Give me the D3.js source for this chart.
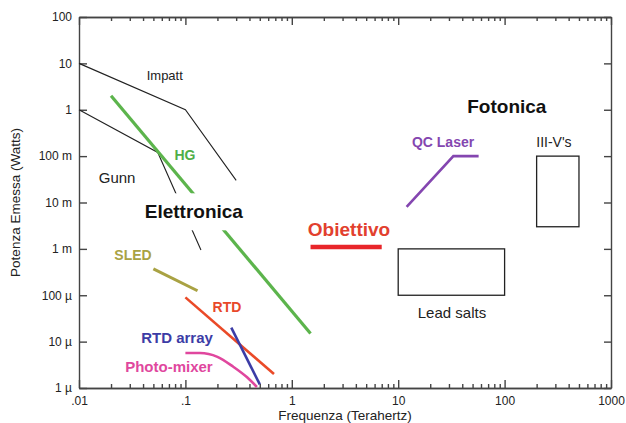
<!DOCTYPE html>
<html>
<head>
<meta charset="utf-8">
<script src="https://cdn.jsdelivr.net/npm/d3@7"></script>
<style>
  body { margin: 0; background: #fff; }
  svg { display: block; font-family: Helvetica, Arial, "Liberation Sans", sans-serif; }
  .axis path, .axis line { stroke: #444; stroke-width: 1.4; }
  .axis text { font-size: 12px; fill: #222; }
</style>
</head>
<body>
<script>
// tick values and labels
const xTicks = [0.01, 0.1, 1, 10, 100, 1000]
const xTickLabels = ['.01', '.1', '1', '10', '100', '1000']
const yTicks = [1e-6, 1e-5, 1e-4, 1e-3, 1e-2, 1e-1, 1, 10, 100]
const yTickLabels = ['1 µ', '10 µ', '100 µ', '1 m', '10 m', '100 m', '1', '10', '100']

// series [THz, Watts]
const impatt = [[0.01, 10], [0.1, 1], [0.3, 0.03]]
const gunn = [[0.01, 1], [0.055, 0.12], [0.14, 0.00095]]
const hg = [[0.02, 2], [1.5, 1.5e-5]]
const sled = [[0.05, 3.7e-4], [0.13, 1.25e-4]]
const rtd = [[0.1, 9e-5], [0.68, 2e-6]]
const rtdArray = [[0.27, 2e-5], [0.5, 1.2e-6]]
const photoMixer = [[0.1, 5.7e-6], [0.137, 5.7e-6], [0.2, 4.7e-6], [0.28, 2.9e-6], [0.38, 1.7e-6], [0.47, 1.05e-6]]
const qcLaser = [[12, 0.008], [33, 0.1], [57, 0.1]]
const obiettivo = [[1.5, 1.1e-3], [7, 1.1e-3]]

// boxes [x0, x1, y0, y1]
const leadSaltsBox = [10, 100, 1e-4, 1e-3]
const iiiVBox = [200, 500, 3e-3, 0.1]

const W = 626, H = 423
const margin = { top: 17, right: 15, bottom: 35, left: 79 }

const svg = d3.select('body').append('svg')
    .attr('width', W)
    .attr('height', H)

const x = d3.scaleLog().domain([0.01, 1000]).range([margin.left, W - margin.right])
const y = d3.scaleLog().domain([1e-6, 100]).range([H - margin.bottom, margin.top])

// minor ticks 2..9 per decade
const minorX = []
xTicks.slice(0, -1).forEach(d => {
    for (let k = 2; k < 10; k++) minorX.push(d * k)
})

const fmtX = d => xTickLabels[xTicks.indexOf(d)]
const fmtY = d => yTickLabels[yTicks.findIndex(v => Math.abs(Math.log10(v) - Math.log10(d)) < 1e-6)]

svg.append('g').attr('class', 'axis')
    .attr('transform', `translate(0,${y.range()[0]})`)
    .call(d3.axisBottom(x).tickValues(minorX).tickFormat('').tickSize(-4).tickSizeOuter(0))
svg.append('g').attr('class', 'axis')
    .attr('transform', `translate(0,${y.range()[0]})`)
    .call(d3.axisBottom(x).tickValues(xTicks).tickFormat(fmtX).tickSize(-8).tickSizeOuter(0).tickPadding(8))

svg.append('g').attr('class', 'axis')
    .attr('transform', `translate(0,${y.range()[1]})`)
    .call(d3.axisTop(x).tickValues(minorX).tickFormat('').tickSize(-4).tickSizeOuter(0))
svg.append('g').attr('class', 'axis')
    .attr('transform', `translate(0,${y.range()[1]})`)
    .call(d3.axisTop(x).tickValues(xTicks).tickFormat('').tickSize(-8).tickSizeOuter(0))

svg.append('g').attr('class', 'axis')
    .attr('transform', `translate(${x.range()[0]},0)`)
    .call(d3.axisLeft(y).tickValues(yTicks).tickFormat(fmtY).tickSize(-8).tickSizeOuter(0).tickPadding(7))
svg.append('g').attr('class', 'axis')
    .attr('transform', `translate(${x.range()[1]},0)`)
    .call(d3.axisRight(y).tickValues(yTicks).tickFormat('').tickSize(-7).tickSizeOuter(0))

// axis titles
svg.append('text')
    .attr('x', (x.range()[0] + x.range()[1]) / 2)
    .attr('y', H - 3)
    .attr('text-anchor', 'middle')
    .style('font-size', '13.5px')
    .style('fill', '#222')
    .text('Frequenza  (Terahertz)')
svg.append('text')
    .attr('transform', `translate(20,${(y.range()[0] + y.range()[1]) / 2}) rotate(-90)`)
    .attr('text-anchor', 'middle')
    .style('font-size', '13.5px')
    .style('fill', '#222')
    .text('Potenza Emessa (Watts)')

const line = d3.line().x(d => x(d[0])).y(d => y(d[1]))
const curve = d3.line().x(d => x(d[0])).y(d => y(d[1])).curve(d3.curveMonotoneX)

function drawLine(data, color, width, gen) {
    svg.append('path')
        .datum(data)
        .attr('d', gen || line)
        .attr('fill', 'none')
        .attr('stroke', color)
        .attr('stroke-width', width)
}

drawLine(impatt, '#222', 1.1)
drawLine(gunn, '#222', 1.1)
drawLine(hg, '#5cb44c', 3.2)
drawLine(sled, '#a9a243', 3)
drawLine(rtd, '#ea4a28', 2.6)
drawLine(rtdArray, '#3c3ca6', 2.6)
drawLine(photoMixer, '#e0479e', 2.6, curve)
drawLine(qcLaser, '#8446b0', 2.6)
drawLine(obiettivo, '#e8262a', 4.5)

function drawBox(b) {
    svg.append('rect')
        .attr('x', x(b[0]))
        .attr('y', y(b[3]))
        .attr('width', x(b[1]) - x(b[0]))
        .attr('height', y(b[2]) - y(b[3]))
        .attr('fill', 'none')
        .attr('stroke', '#222')
        .attr('stroke-width', 1.3)
}
drawBox(leadSaltsBox)
drawBox(iiiVBox)

// labels placed in data coordinates
const labels = [
    { text: 'Impatt', x: 0.064, y: 5.4, color: '#222', size: 13, weight: 'normal' },
    { text: 'HG', x: 0.099, y: 0.106, color: '#4fae48', size: 14, weight: 'bold' },
    { text: 'Gunn', x: 0.0228, y: 0.034, color: '#222', size: 15, weight: 'normal' },
    { text: 'Elettronica', x: 0.12, y: 0.0063, color: '#111', size: 19, weight: 'bold', knockout: true },
    { text: 'SLED', x: 0.0322, y: 7.4e-4, color: '#a9a243', size: 14, weight: 'bold' },
    { text: 'RTD', x: 0.246, y: 5.6e-5, color: '#e8482a', size: 14, weight: 'bold' },
    { text: 'RTD array', x: 0.0834, y: 1.21e-5, color: '#3c3ca6', size: 15, weight: 'bold' },
    { text: 'Photo-mixer', x: 0.07, y: 2.86e-6, color: '#e0479e', size: 15, weight: 'bold' },
    { text: 'Obiettivo', x: 3.45, y: 2.57e-3, color: '#e2402e', size: 19, weight: 'bold' },
    { text: 'Lead salts', x: 32, y: 4.2e-5, color: '#222', size: 15, weight: 'normal' },
    { text: 'QC Laser', x: 26.4, y: 0.2, color: '#8446b0', size: 14, weight: 'bold' },
    { text: "III-V's", x: 291, y: 0.2, color: '#222', size: 14, weight: 'normal' },
    { text: 'Fotonica', x: 105, y: 1.15, color: '#111', size: 19, weight: 'bold' }
]

labels.forEach(l => {
    const g = svg.append('g')
    const t = g.append('text')
        .attr('x', x(l.x))
        .attr('y', y(l.y))
        .attr('text-anchor', 'middle')
        .attr('dominant-baseline', 'central')
        .style('font-size', l.size + 'px')
        .style('font-weight', l.weight)
        .style('fill', l.color)
        .text(l.text)
    if (l.knockout) {
        const bb = t.node().getBBox()
        g.insert('rect', 'text')
            .attr('x', bb.x - 4)
            .attr('y', bb.y - 8)
            .attr('width', bb.width + 8)
            .attr('height', bb.height + 16)
            .attr('fill', '#fff')
    }
})
</script>
</body>
</html>
